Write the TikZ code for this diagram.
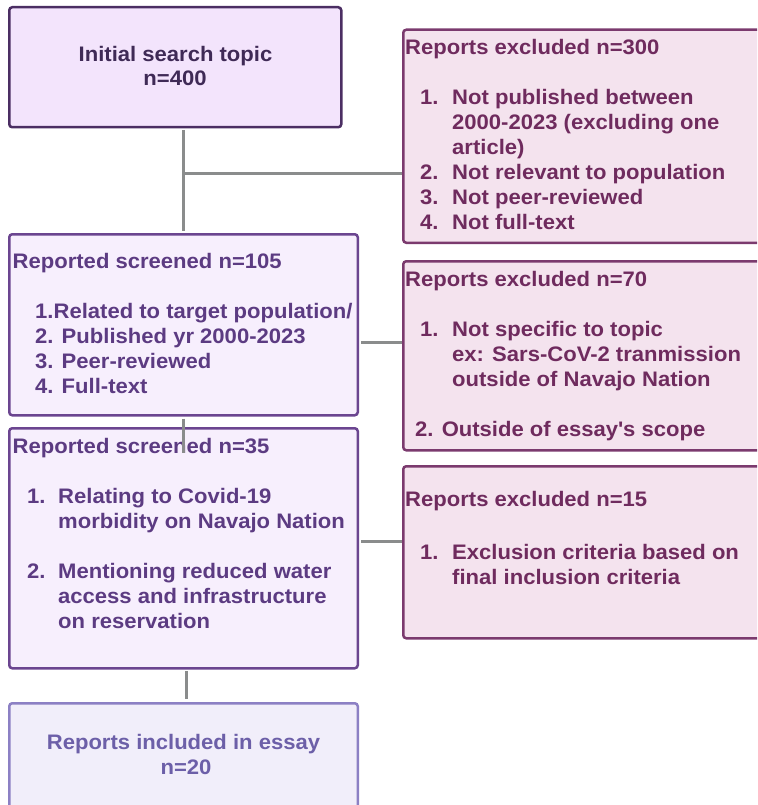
\documentclass[tikz,border=0pt]{standalone}
\usepackage{fontspec}
\setmainfont{Liberation Sans}[FakeStretch=1.05]
\definecolor{connGray}{HTML}{8A8C8C}
\definecolor{topFill}{HTML}{F3E4FC}
\definecolor{topDraw}{HTML}{4B2E63}
\definecolor{topText}{HTML}{3F2A56}
\definecolor{exFill}{HTML}{F4E3EE}
\definecolor{exDraw}{HTML}{7B3A6E}
\definecolor{exText}{HTML}{6F2B5E}
\definecolor{scFill}{HTML}{F7EFFD}
\definecolor{scDraw}{HTML}{6B4590}
\definecolor{scText}{HTML}{5C3B82}
\definecolor{inFill}{HTML}{F1EEFA}
\definecolor{inDraw}{HTML}{8C80C4}
\definecolor{inText}{HTML}{6C5FA8}
\begin{document}
\begin{tikzpicture}[x=1pt,y=-1pt,
  box/.style={draw, line width=2.5pt, rounded corners=3pt, anchor=north west, inner sep=0pt},
  conn/.style={draw=connGray, line width=3pt},
  txt/.style={anchor=base west, inner sep=0pt, yshift=-1.5pt, font=\fontsize{21}{25}\selectfont\bfseries},
  ctxt/.style={anchor=base, inner sep=0pt, yshift=-1pt, font=\fontsize{21}{25}\selectfont\bfseries}]
\clip (0,0) rectangle (757,805);
% boxes
\node[box, fill=topFill, draw=topDraw, minimum width=332pt, minimum height=120pt] (b1) at (8,6) {};
\node[box, fill=exFill, draw=exDraw, minimum width=370pt, minimum height=213pt] (b2) at (402,28.5) {};
\node[box, fill=scFill, draw=scDraw, minimum width=348.5pt, minimum height=181pt] (b3) at (8,233) {};
\node[box, fill=exFill, draw=exDraw, minimum width=370pt, minimum height=189pt] (b4) at (402,260) {};
\node[box, fill=scFill, draw=scDraw, minimum width=348.5pt, minimum height=240pt] (b5) at (8,427) {};
\node[box, fill=exFill, draw=exDraw, minimum width=370pt, minimum height=172pt] (b6) at (402,465) {};
\node[box, fill=inFill, draw=inDraw, minimum width=348.5pt, minimum height=120pt] (b7) at (8,702) {};
% box 1 text
\node[ctxt, text=topText] (t1a) at (175.5,61) {Initial search topic};
\node[ctxt, text=topText] (t1b) at (175,85) {n=400};
% box 2 text
\node[txt, text=exText] (t2a) at (405,53) {Reports excluded n=300};
\node[txt, text=exText] (t2b) at (420,103) {1.};
\node[txt, text=exText] (t2c) at (452,103) {Not published between};
\node[txt, text=exText] (t2d) at (452,128) {2000-2023 (excluding one};
\node[txt, text=exText] (t2e) at (452,153) {article)};
\node[txt, text=exText] (t2f) at (420,178) {2.};
\node[txt, text=exText] (t2g) at (452,178) {Not relevant to population};
\node[txt, text=exText] (t2h) at (420,203) {3.};
\node[txt, text=exText] (t2i) at (452,203) {Not peer-reviewed};
\node[txt, text=exText] (t2j) at (420,228) {4.};
\node[txt, text=exText] (t2k) at (452,228) {Not full-text};
% box 3 text
\node[txt, text=scText] (t3a) at (12.5,267) {Reported screened n=105};
\node[txt, text=scText] (t3b) at (35,317) {1.Related to target population/};
\node[txt, text=scText] (t3c) at (35,342) {2. Published yr 2000-2023};
\node[txt, text=scText] (t3d) at (35,367) {3. Peer-reviewed};
\node[txt, text=scText] (t3e) at (35,392) {4. Full-text};
% box 4 text
\node[txt, text=exText] (t4a) at (405,285) {Reports excluded n=70};
\node[txt, text=exText] (t4b) at (420,335) {1.};
\node[txt, text=exText] (t4c) at (452,335) {Not specific to topic};
\node[txt, text=exText] (t4d) at (452,360) {ex: Sars-CoV-2 tranmission};
\node[txt, text=exText] (t4e) at (452,385) {outside of Navajo Nation};
\node[txt, text=exText] (t4f) at (415,435) {2. Outside of essay\textquotesingle s scope};
% box 5 text
\node[txt, text=scText] (t5a) at (12.5,452) {Reported screened n=35};
\node[txt, text=scText] (t5b) at (27,502) {1.};
\node[txt, text=scText] (t5c) at (58,502) {Relating to Covid-19};
\node[txt, text=scText] (t5d) at (58,527) {morbidity on Navajo Nation};
\node[txt, text=scText] (t5e) at (27,577) {2.};
\node[txt, text=scText] (t5f) at (58,577) {Mentioning reduced water};
\node[txt, text=scText] (t5g) at (58,602) {access and infrastructure};
\node[txt, text=scText] (t5h) at (58,627) {on reservation};
% box 6 text
\node[txt, text=exText] (t6a) at (405,505) {Reports excluded n=15};
\node[txt, text=exText] (t6b) at (420,558) {1.};
\node[txt, text=exText] (t6c) at (452,558) {Exclusion criteria based on};
\node[txt, text=exText] (t6d) at (452,583) {final inclusion criteria};
% box 7 text
\node[ctxt, text=inText] (t7a) at (183.5,748) {Reports included in essay};
\node[ctxt, text=inText] (t7b) at (186,773) {n=20};
% connectors
\coordinate (j1) at (183,174);
\coordinate (j2) at (360,342.5);
\coordinate (j3) at (183,453);
\coordinate (j4) at (360,541.5);
\coordinate (j5) at (186,684);
\draw[conn] ([yshift=-1.5pt]b1.south -| j1) -- ([yshift=2pt]b3.north -| j1);
\draw[conn] (j1) -- (b2.west |- j1);
\draw[conn] ([xshift=2pt]b3.east |- j2) -- (b4.west |- j2);
\draw[conn] ([yshift=-2pt]b3.south -| j3) -- (j3);
\draw[conn] ([xshift=2pt]b5.east |- j4) -- (b6.west |- j4);
\draw[conn] ([yshift=-1.5pt]b5.south -| j5) -- ([yshift=3pt]b7.north -| j5);
\end{tikzpicture}
\end{document}
